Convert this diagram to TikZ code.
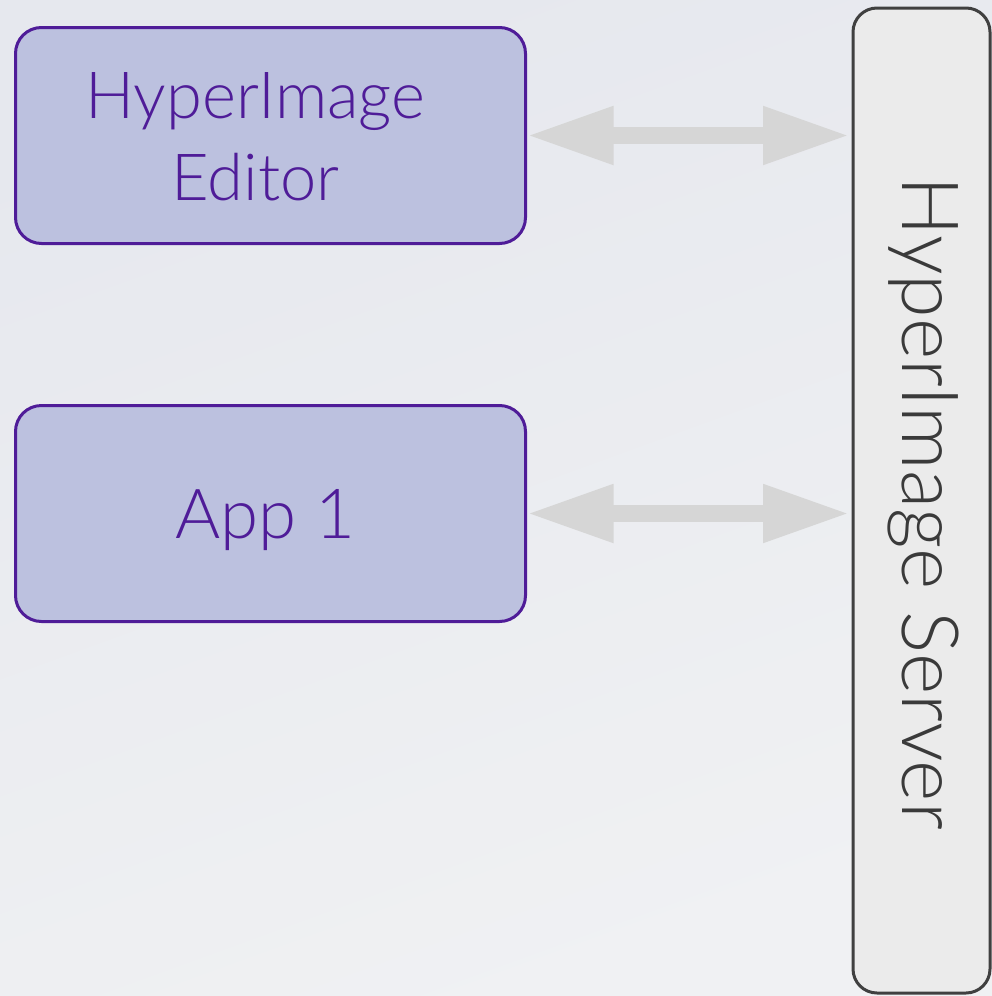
\documentclass[tikz,border=0pt]{standalone}
\usepackage{fontspec}
\setmainfont{Lato}[UprightFont=* Light]
\usetikzlibrary{arrows.meta}
\definecolor{bgA}{HTML}{E6E8EE}
\definecolor{bgB}{HTML}{F0F1F3}
\definecolor{boxfill}{HTML}{BCC1DF}
\definecolor{boxline}{HTML}{4F1C98}
\definecolor{srvfill}{HTML}{EBEBEB}
\definecolor{srvline}{HTML}{404040}
\definecolor{arrowgray}{HTML}{D6D6D6}
\tikzset{
  appbox/.style={draw=boxline, fill=boxfill, line width=3pt, rounded corners=26pt,
    minimum width=510pt, minimum height=216pt, inner sep=0pt},
  boxtext/.style={text=boxline, align=center, inner sep=0pt},
  srvbox/.style={draw=srvline, fill=srvfill, line width=3pt, rounded corners=24pt,
    minimum width=137pt, minimum height=985pt, inner sep=0pt},
  srvtext/.style={text=srvline!90!black, rotate=-90, anchor=base,
    font=\fontsize{79}{90}\selectfont, inner sep=0pt},
  bigarrow/.style={draw=arrowgray, line width=17pt,
    {Triangle[length=87pt,width=54pt]}-{Triangle[length=87pt,width=54pt]}}
}
\begin{document}
\begin{tikzpicture}[x=1pt,y=-1pt]
  \shade[top color=bgA, bottom color=bgB, shading angle=20] (0,0) rectangle (992,996);
  \useasboundingbox (0,0) rectangle (992,996);
  \node[appbox] (ed) at (270.5,135.5) {};
  \node[boxtext, font=\fontsize{65}{82}\selectfont] (edt) at ([xshift=-15pt,yshift=-1.5pt]ed.center) {HyperImage\\Editor};
  \node[appbox] (app) at (270.5,513.5) {};
  \node[boxtext, font=\fontsize{69}{82}\selectfont, anchor=base] (appt) at ([xshift=-5pt,yshift=-24.5pt]app.center) {App 1};
  \node[srvbox] (srv) at (921.5,500.5) {};
  \node[srvtext] (srvt) at (902,503) {HyperImage Server};
  \draw[bigarrow, shorten >=1.5pt, shorten <=-0.5pt] (ed.east) -- (ed.east -| srv.west);
  \draw[bigarrow, shorten >=1.5pt, shorten <=-0.5pt] (app.east) -- (app.east -| srv.west);
\end{tikzpicture}
\end{document}
